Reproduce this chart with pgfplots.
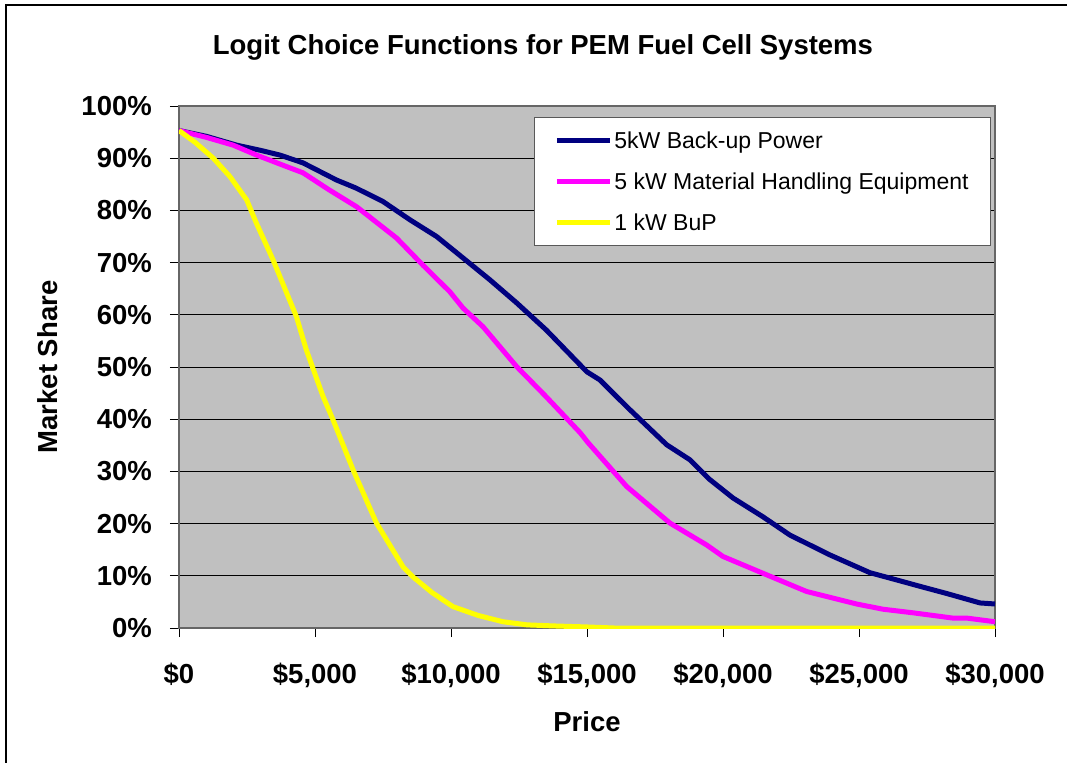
\documentclass[border=0pt]{standalone}
\usepackage{fontspec}
\setmainfont{Liberation Sans}
\usepackage{pgfplots}
\pgfplotsset{compat=1.18}
\definecolor{plotbg}{HTML}{C0C0C0}
\definecolor{navy}{HTML}{000080}
\definecolor{mag}{HTML}{FF00FF}
\definecolor{yel}{HTML}{FFFF00}
\begin{document}
\begin{tikzpicture}
\useasboundingbox (-179bp,-135bp) rectangle (888bp,628bp);
\draw[line width=1.5bp] (-173bp,-140bp) -- (-173bp,623bp) -- (895bp,623bp);
\begin{axis}[
  at={(0,0)}, anchor=south west,
  scale only axis, width=816bp, height=522bp,
  xmin=0, xmax=30000, ymin=0, ymax=100,
  xtick={0,5000,...,30000}, ytick={0,10,...,100},
  scaled x ticks=false,
  xticklabel={\$\pgfmathprintnumber{\tick}},
  yticklabel={\pgfmathprintnumber{\tick}\%},
  /pgf/number format/fixed,
  /pgf/number format/1000 sep={,},
  /pgf/number format/assume math mode=true,
  tick align=outside, major tick length=9bp, xtick pos=bottom, ytick pos=left,
  tick style={black, line width=0.8bp},
  axis background/.style={fill=plotbg},
  axis line style={draw=gray!80!black, line width=1.2bp},
  ymajorgrids, grid style={black, line width=0.8bp},
  ticklabel style={font=\fontsize{27.5bp}{30bp}\selectfont\bfseries, inner sep=0pt},
  xticklabel style={anchor=base, yshift=-46bp},
  yticklabel style={anchor=east, xshift=-18bp},
  title={Logit Choice Functions for PEM Fuel Cell Systems},
  title style={font=\fontsize{27.5bp}{30bp}\selectfont\bfseries, at={(axis description cs:0.446,1.1)}, anchor=center},
  xlabel={Price},
  xlabel style={font=\fontsize{27.5bp}{30bp}\selectfont\bfseries, at={(axis description cs:0.5,0)}, yshift=-94bp, anchor=center},
  ylabel={Market Share},
  ylabel style={font=\fontsize{27.5bp}{30bp}\selectfont\bfseries, at={(axis description cs:-0.1611,0.5)}, anchor=center},
  legend style={at={(0.435,0.979)}, anchor=north west, draw=gray!70!black, line width=1bp, fill=white,
    font=\fontsize{23bp}{26bp}\selectfont, inner xsep=20bp, inner ysep=12bp, row sep=19bp},
  legend cell align=left,
  legend image code/.code={\draw[#1, line width=5bp] (0bp,0bp) -- (53bp,0bp);},
]
\addplot[navy, line width=5bp, line join=round] coordinates {
(0,95.3) (1000,94.2) (2120,92.5) (3000,91.5) (3710,90.6) (4560,89.1) (5800,85.8) (6500,84.3)
(7500,81.7) (8490,78.2) (9470,75.0) (10440,70.9) (11430,66.7) (12410,62.3) (13500,57.1)
(14990,49.1) (15480,47.5) (16460,42.4) (17930,35.1) (18790,32.2) (19500,28.5) (20370,24.9)
(21470,21.3) (22460,17.8) (23930,14.0) (25400,10.6) (26390,9.2) (27300,7.9) (28230,6.6)
(29450,4.8) (30000,4.6)};
\addlegendentry{5kW Back-up Power}
\addplot[mag, line width=5bp, line join=round] coordinates {
(0,95.3) (1000,94.0) (1990,92.5) (2850,90.6) (3950,88.4) (4560,87.2) (5500,84.0) (6530,80.7)
(8000,74.7) (8970,69.5) (9960,64.4) (10440,61.3) (11180,57.7) (12410,50.1) (13500,44.3)
(14750,37.4) (15040,35.5) (16460,27.1) (18050,20.1) (19400,15.9) (20000,13.7) (21600,10.2)
(23070,7.0) (24910,4.6) (25880,3.6) (27000,2.9) (28450,1.9) (28960,1.9) (30000,1.2)};
\addlegendentry{5 kW Material Handling Equipment}
\addplot[yel, line width=5bp, line join=round] coordinates {
(0,95.3) (600,93) (1260,90.0) (1870,86.5) (2490,82.0) (2850,77.5) (3460,70.5) (4320,59.6)
(4680,53.3) (5300,44.3) (5670,39.8) (6400,30.3) (7260,20.1) (8240,11.7) (8600,9.8)
(9300,6.8) (10070,4.1) (11000,2.4) (11910,1.2) (12800,0.6) (13750,0.4) (15000,0.2)
(16000,0) (30000,0)};
\addlegendentry{1 kW BuP}
\end{axis}
\end{tikzpicture}
\end{document}
